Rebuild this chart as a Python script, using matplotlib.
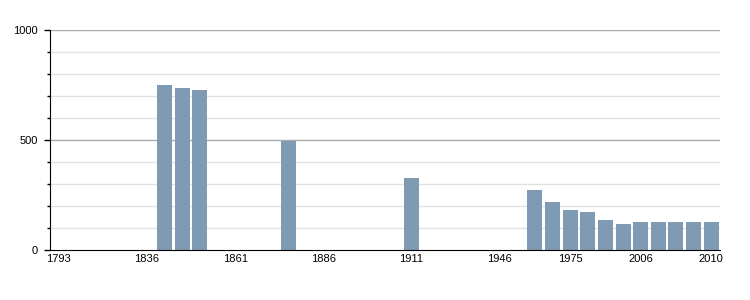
import numpy as np
import matplotlib.pyplot as plt
from matplotlib.ticker import MultipleLocator

years = [1793, 1800, 1806, 1821, 1831, 1836, 1841, 1846, 1851, 1856,
         1861, 1866, 1872, 1876, 1881, 1886, 1891, 1896, 1901, 1906,
         1911, 1921, 1926, 1931, 1936, 1946, 1954, 1962, 1968, 1975,
         1982, 1990, 1999, 2006, 2007, 2008, 2009, 2010]
# 0 = no census figure for that year
population = [0, 0, 0, 0, 0, 0, 750, 736, 727, 0,
              0, 0, 0, 497, 0, 0, 0, 0, 0, 0,
              327, 0, 0, 0, 0, 0, 0, 273, 218, 182,
              173, 136, 118, 127, 127, 127, 127, 127]
shown_labels = [1793, 1836, 1861, 1886, 1911, 1946, 1975, 2006, 2010]

plt.rcParams['font.family'] = ['Liberation Sans', 'DejaVu Sans']

fig = plt.figure(figsize=(7.5, 3), dpi=100)
ax = fig.add_axes([50/750, 50/300, 670/750, 220/300])

x = np.arange(len(years))
ax.bar(x, population, width=0.85, color='#7f9ab3', zorder=3)

ax.set_xlim(-0.5, len(years) - 0.5)
ax.set_ylim(0, 1000)

# gridlines
for v in range(100, 1001, 100):
    if v % 500 == 0:
        ax.axhline(v, color='#aaaaaa', lw=1, zorder=1)
    else:
        ax.axhline(v, color='#e2e2e2', lw=1, zorder=1)

ax.yaxis.set_major_locator(MultipleLocator(500))
ax.yaxis.set_minor_locator(MultipleLocator(100))
ax.tick_params(axis='y', which='major', length=4, width=1, labelsize=8, pad=4.5)
ax.tick_params(axis='y', which='minor', length=2, width=1)

tick_pos = [years.index(y) for y in shown_labels]
ax.set_xticks(tick_pos)
ax.set_xticklabels([str(y) for y in shown_labels])
ax.tick_params(axis='x', length=0, labelsize=8, pad=3)

for side in ['top', 'right']:
    ax.spines[side].set_visible(False)
ax.spines['left'].set_color('black')
ax.spines['bottom'].set_color('black')
ax.spines['bottom'].set_zorder(4)

fig.savefig('out.png', dpi=100)
